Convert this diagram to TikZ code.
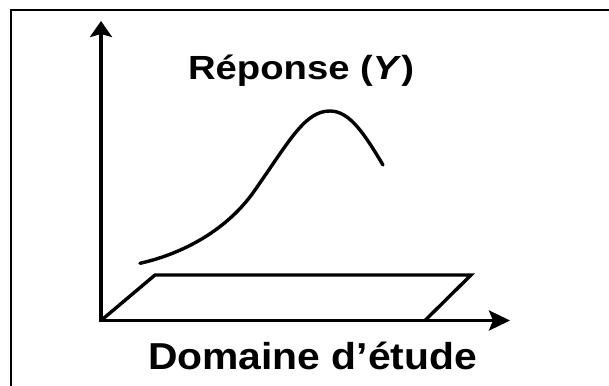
\documentclass[tikz,border=0pt]{standalone}
\usepackage{fontspec}
\setmainfont{Liberation Sans}
\usetikzlibrary{arrows.meta}
\begin{document}
\begin{tikzpicture}[x=1pt,y=-1pt,
  axisline/.style={line width=3.4pt},
  frameline/.style={line width=2.2pt},
  shapeline/.style={line width=3.4pt, line join=miter},
  curveline/.style={line width=3.4pt, line cap=round},
  lbl/.style={inner sep=0pt, outer sep=0pt}]
\useasboundingbox (0,0) rectangle (609,385);
% frame
\coordinate (FB) at (11,386);
\coordinate (FC) at (11,10);
\coordinate (FR) at (610,10);
\draw[frameline] (FB) -- (FC) -- (FR);
% axes
\coordinate (O) at (101,320.5);
\coordinate (Ytip) at (101,21);
\coordinate (Xtip) at (510,320.5);
\draw[axisline, {Stealth[length=16pt,width=22pt,inset=3pt]}-{Stealth[length=21pt,width=20pt,inset=4pt]}]
  (Ytip) -- (O) -- (Xtip);
% parallelogram domain
\coordinate (P1) at (101,320.5);
\coordinate (P2) at (155,275);
\coordinate (P3) at (471,275);
\coordinate (P4) at (425,320.5);
\draw[shapeline] (P1) -- (P2) -- (P3) -- (P4);
% response curve
\coordinate (C0) at (140,263.3);
\coordinate (C1) at (255,190);
\coordinate (C2) at (330,111);
\coordinate (C3) at (383,165);
\draw[curveline] (C0) .. controls (190,252) and (231,225) .. (C1)
  .. controls (290,140) and (305,111) .. (C2)
  .. controls (350,111) and (365,135) .. (C3);
% labels
\node[lbl, anchor=base west] (rep) at (188,80)
  {\resizebox*{226pt}{31.5pt}{\bfseries Réponse (\textit{Y})}};
\node[lbl, anchor=base west] (dom) at (148,369)
  {\resizebox{329pt}{27.5pt}{\bfseries Domaine d’étude}};
\end{tikzpicture}
\end{document}
